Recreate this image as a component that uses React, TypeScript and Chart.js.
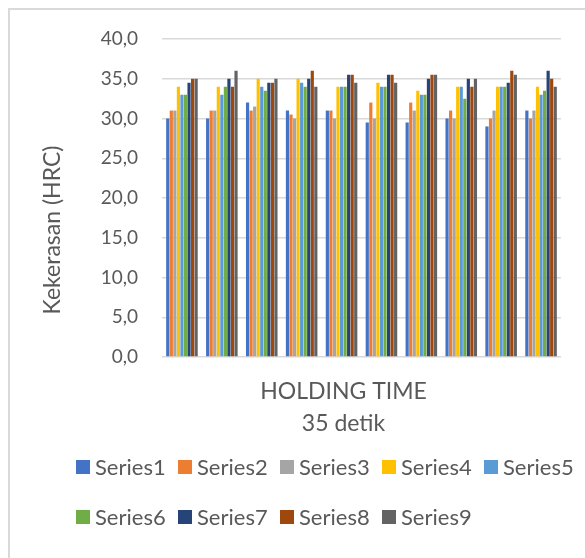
import { useEffect, useRef } from "react";
import { Chart, registerables } from "chart.js";

Chart.register(...registerables);

// Ten measurement groups, nine hardness readings each (HRC)
const categories = ["1", "2", "3", "4", "5", "6", "7", "8", "9", "10"];
const seriesNames = ["Series1", "Series2", "Series3", "Series4", "Series5", "Series6", "Series7", "Series8", "Series9"];

const series1 = [30, 30, 32, 31, 31, 29.5, 29.5, 30, 29, 31];
const series2 = [31, 31, 31, 30.5, 31, 32, 32, 31, 30, 30];
const series3 = [31, 31, 31.5, 30, 30, 30, 31, 30, 31, 31];
const series4 = [34, 34, 35, 35, 34, 34.5, 33.5, 34, 34, 34];
const series5 = [33, 33, 34, 34.5, 34, 34, 33, 34, 34, 33];
const series6 = [33, 34, 33.5, 34, 34, 34, 33, 32.5, 34, 33.5];
const series7 = [34.5, 35, 34.5, 35, 35.5, 35.5, 35, 35, 34.5, 36];
const series8 = [35, 34, 34.5, 36, 35.5, 35.5, 35.5, 34, 36, 35];
const series9 = [35, 36, 35, 34, 34.5, 34.5, 35.5, 35, 35.5, 34];

const seriesValues = [series1, series2, series3, series4, series5, series6, series7, series8, series9];
const seriesColors = ["#4472C4", "#ED7D31", "#A5A5A5", "#FFC000", "#5B9BD5", "#70AD47", "#264478", "#9E480E", "#636363"];

const yMin = 0;
const yMax = 40;
const yStep = 5;

const yTitle = "Kekerasan (HRC)";
const xTitleLines = ["HOLDING TIME", "35 detik"];

const FONT = "Lato, 'Open Sans', sans-serif";
const TEXT_COLOR = "#595959";
const GRID_COLOR = "#d9d9d9";

// Axis titles and the two-row legend, drawn on top of the chart
const titlesAndLegend = {
  id: "titlesAndLegend",
  afterDraw(chart: any) {
    const { ctx, chartArea } = chart;
    ctx.save();
    ctx.fillStyle = TEXT_COLOR;
    ctx.textAlign = "center";
    ctx.textBaseline = "middle";
    ctx.font = `23px ${FONT}`;

    // vertical axis title
    ctx.save();
    ctx.translate(chartArea.left - 109, (chartArea.top + chartArea.bottom) / 2 + 32);
    ctx.rotate(-Math.PI / 2);
    ctx.fillText(yTitle, 0, 0);
    ctx.restore();

    // horizontal axis title
    const xCenter = chartArea.left + chartArea.width * 0.455;
    xTitleLines.forEach((line, i) => {
      ctx.fillText(line, xCenter, chartArea.bottom + 35 + i * 32);
    });

    // legend: five columns, two rows
    ctx.font = `22px ${FONT}`;
    ctx.textAlign = "left";
    const legendLeft = 76;
    const colWidth = 102;
    const rowTop = chartArea.bottom + 110;
    const rowGap = 50;
    chart.data.datasets.forEach((ds: any, i: number) => {
      const col = i % 5;
      const row = Math.floor(i / 5);
      const x = legendLeft + col * colWidth;
      const y = rowTop + row * rowGap;
      ctx.fillStyle = ds.backgroundColor;
      ctx.fillRect(x, y - 7, 14, 14);
      ctx.fillStyle = TEXT_COLOR;
      ctx.fillText(ds.label, x + 19, y + 1);
    });
    ctx.restore();
  },
};

export default function App() {
  const canvasRef = useRef<HTMLCanvasElement | null>(null);

  useEffect(() => {
    const canvas = canvasRef.current;
    if (!canvas) return;
    const chart = new Chart(canvas, {
      type: "bar",
      data: {
        labels: categories,
        datasets: seriesNames.map((name, i) => ({
          label: name,
          data: seriesValues[i],
          backgroundColor: seriesColors[i],
          borderWidth: 0,
          categoryPercentage: 0.8,
          barPercentage: 0.9,
        })),
      },
      options: {
        animation: false,
        responsive: false,
        maintainAspectRatio: false,
        layout: { padding: { left: 0, right: 24, top: 39, bottom: 201 } },
        plugins: {
          legend: { display: false },
          tooltip: { enabled: false },
          title: { display: false },
        },
        scales: {
          x: {
            display: false,
            offset: true,
          },
          y: {
            min: yMin,
            max: yMax,
            afterFit: (scale: any) => {
              scale.width = 162;
            },
            border: { display: false },
            grid: { color: GRID_COLOR, lineWidth: 1.5, drawTicks: false },
            ticks: {
              stepSize: yStep,
              padding: 24,
              color: TEXT_COLOR,
              font: { family: FONT, size: 19 },
              callback: (v: any) => Number(v).toFixed(1).replace(".", ","),
            },
          },
        },
      },
      plugins: [titlesAndLegend],
    });
    return () => chart.destroy();
  }, []);

  return (
    <div style={{ position: "fixed", left: 0, top: 0, width: 585, height: 558, overflow: "hidden", background: "#fff" }}>
      <div
        style={{
          position: "absolute",
          left: 8,
          top: 8,
          width: 700,
          height: 700,
          borderLeft: "2px solid #d9d9d9",
          borderTop: "2px solid #d9d9d9",
        }}
      />
      <canvas ref={canvasRef} width={585} height={558} style={{ position: "absolute", left: 0, top: 0 }} />
    </div>
  );
}
